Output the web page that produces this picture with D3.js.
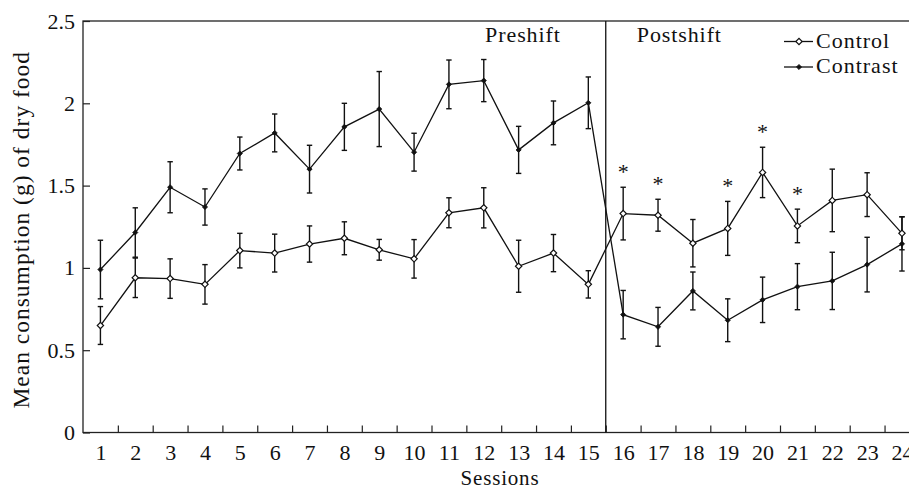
<!DOCTYPE html>
<html>
<head>
<meta charset="utf-8">
<script src="https://cdn.jsdelivr.net/npm/d3@7"></script>
<style>
  body { margin: 0; background: #fff; }
  svg { display: block; }
  text { font-family: "Liberation Serif", "Times New Roman", serif; fill: #111; }
</style>
</head>
<body>
<svg width="909" height="488"></svg>
<script>
// sessions 1..24, shift happens after session 15
var sessions = d3.range(1, 25);
var control      = [0.65, 0.94, 0.935, 0.90, 1.105, 1.09, 1.145, 1.18, 1.11, 1.055, 1.335, 1.365, 1.01, 1.09, 0.90,
                    1.33, 1.32, 1.15, 1.24, 1.58, 1.255, 1.41, 1.445, 1.21];
var controlErr   = [0.115, 0.12, 0.12, 0.12, 0.105, 0.115, 0.11, 0.10, 0.063, 0.117, 0.091, 0.122, 0.158, 0.113, 0.083,
                    0.16, 0.097, 0.144, 0.164, 0.153, 0.102, 0.19, 0.133, 0.10];
var contrast     = [0.99, 1.215, 1.49, 1.37, 1.695, 1.82, 1.60, 1.857, 1.965, 1.703, 2.115, 2.138, 1.717, 1.881, 2.003,
                    0.716, 0.642, 0.86, 0.682, 0.806, 0.886, 0.921, 1.02, 1.146];
var contrastErr  = [0.178, 0.15, 0.155, 0.11, 0.10, 0.115, 0.145, 0.143, 0.228, 0.115, 0.148, 0.128, 0.143, 0.133, 0.157,
                    0.147, 0.118, 0.115, 0.13, 0.138, 0.14, 0.174, 0.166, 0.165];
var sigSessions  = [16, 17, 19, 20, 21];
var yTicks = [0, 0.5, 1, 1.5, 2, 2.5];

var svg = d3.select("svg"),
    margin = {top: 21, left: 83, bottom: 55.5},
    step = 34.85,
    height = +svg.attr("height") - margin.top - margin.bottom;

var x = d3.scaleLinear().domain([0.5, 24.5]).range([margin.left, margin.left + 24 * step]),
    y = d3.scaleLinear().domain([0, 2.5]).range([margin.top + height, margin.top]);

var g = svg.append("g");

// frame (right side falls outside the picture)
g.append("rect")
    .attr("x", x(0.5)).attr("y", y(2.5))
    .attr("width", x(24.5) - x(0.5)).attr("height", y(0) - y(2.5))
    .attr("fill", "none").attr("stroke", "#222").attr("stroke-width", 1.3);

// x ticks sit between sessions, labels under sessions
g.append("g")
    .attr("transform", "translate(0," + y(0) + ")")
    .call(d3.axisBottom(x).tickValues(d3.range(1.5, 24, 1)).tickSizeInner(-7).tickSizeOuter(0).tickFormat(""))
    .call(function(a) { a.select(".domain").remove(); a.selectAll("line").attr("stroke", "#222").attr("stroke-width", 1.2); });

g.append("g")
    .attr("transform", "translate(0," + y(0) + ")")
    .call(d3.axisBottom(x).tickValues(sessions).tickSize(0).tickPadding(12))
    .call(function(a) {
      a.select(".domain").remove();
      a.selectAll("text").attr("font-family", null).style("font-size", "22px");
    });

g.append("g")
    .attr("transform", "translate(" + x(0.5) + ",0)")
    .call(d3.axisLeft(y).tickValues(yTicks).tickSizeInner(-7).tickSizeOuter(0).tickPadding(8).tickFormat(d3.format("")))
    .call(function(a) {
      a.select(".domain").remove();
      a.selectAll("line").attr("stroke", "#222").attr("stroke-width", 1.2);
      a.selectAll("text").attr("font-family", null).style("font-size", "22px");
    });

// pre/post shift divider
g.append("line")
    .attr("x1", x(15.5)).attr("x2", x(15.5))
    .attr("y1", y(2.5)).attr("y2", y(0))
    .attr("stroke", "#111").attr("stroke-width", 1.3);

g.append("text").attr("x", x(15.5) - 45).attr("y", 42)
    .attr("text-anchor", "end").style("font-size", "22px").style("letter-spacing", "0.9px").text("Preshift");
g.append("text").attr("x", x(15.5) + 31).attr("y", 42)
    .style("font-size", "22px").style("letter-spacing", "0.9px").text("Postshift");

// axis titles
g.append("text")
    .attr("transform", "translate(29," + ((y(0) + y(2.5)) / 2 + 3) + ") rotate(-90)")
    .attr("text-anchor", "middle").style("font-size", "23.5px").style("letter-spacing", "1px")
    .text("Mean consumption (g) of dry food");

g.append("text")
    .attr("x", (x(0.5) + 909) / 2 + 4).attr("y", 484.5)
    .attr("text-anchor", "middle").style("font-size", "21px").style("letter-spacing", "0.8px")
    .text("Sessions");

var series = [
  {name: "Control", values: control, err: controlErr, open: true},
  {name: "Contrast", values: contrast, err: contrastErr, open: false}
];

var line = d3.line()
    .x(function(d, i) { return x(sessions[i]); })
    .y(function(d) { return y(d); });

var diamond = function(s) { return d3.symbol().type(d3.symbolSquare).size(s)(); };

series.forEach(function(s) {
  g.append("path")
      .datum(s.values)
      .attr("d", line)
      .attr("fill", "none").attr("stroke", "#111").attr("stroke-width", 1.3);
});

series.forEach(function(s) {
  var eb = g.append("g").attr("stroke", "#111").attr("stroke-width", 1.4);
  s.values.forEach(function(v, i) {
    var cx = x(sessions[i]), lo = y(v - s.err[i]), hi = y(v + s.err[i]);
    eb.append("line").attr("x1", cx).attr("x2", cx).attr("y1", lo).attr("y2", hi);
    eb.append("line").attr("x1", cx - 2.7).attr("x2", cx + 2.7).attr("y1", lo).attr("y2", lo);
    eb.append("line").attr("x1", cx - 2.7).attr("x2", cx + 2.7).attr("y1", hi).attr("y2", hi);
  });
});

series.forEach(function(s) {
  g.selectAll(null)
      .data(s.values)
      .enter().append("path")
      .attr("d", diamond(s.open ? 20 : 13))
      .attr("transform", function(d, i) { return "translate(" + x(sessions[i]) + "," + y(d) + ") rotate(45)"; })
      .attr("fill", s.open ? "#fff" : "#111")
      .attr("stroke", "#111").attr("stroke-width", s.open ? 1.2 : 0.8);
});

// significance stars above control error bars
g.selectAll(".star")
    .data(sigSessions)
    .enter().append("text")
    .attr("class", "star")
    .attr("x", function(d) { return x(d); })
    .attr("y", function(d) { var i = d - 1; return y(control[i] + controlErr[i]) - 8; })
    .attr("text-anchor", "middle").style("font-size", "22px")
    .text("*");

// legend
var legend = g.append("g");
series.forEach(function(s, k) {
  var ly = 41.5 + k * 25.5;
  legend.append("line").attr("x1", 784).attr("x2", 813).attr("y1", ly).attr("y2", ly)
      .attr("stroke", "#111").attr("stroke-width", 1.3);
  legend.append("path").attr("d", diamond(s.open ? 20 : 13))
      .attr("transform", "translate(799," + ly + ") rotate(45)")
      .attr("fill", s.open ? "#fff" : "#111")
      .attr("stroke", "#111").attr("stroke-width", s.open ? 1.2 : 0.8);
  legend.append("text").attr("x", 816).attr("y", ly + 6)
      .style("font-size", "22px").style("letter-spacing", "1px").text(s.name);
});
</script>
</body>
</html>
